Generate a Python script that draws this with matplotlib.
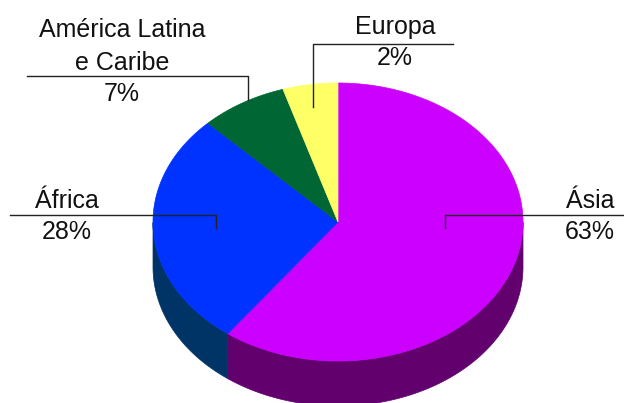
import numpy as np
import matplotlib.pyplot as plt
from matplotlib.patches import Polygon

# regions, printed labels and the slice sizes as drawn in the picture (%)
regions = ['Ásia', 'África', 'América Latina\ne Caribe', 'Europa']
pct_labels = ['63%', '28%', '7%', '2%']
slice_shares = [60.1, 27.4, 7.6, 4.8]

top_colors = ['#CC00FF', '#0033FF', '#006633', '#FFFF66']
side_colors = ['#62006E', '#003466', '#00331A', '#80802E']

# label layout: text x, y of each name line, y of pct, leader (x_start, y_line, x_end, y_end)
label_x = [590, 67, 122, 395]
name_y = [[201], [201], [30, 63], [27]]
pct_y = [232, 232, 94, 58]
leaders = [(624, 215, 445, 228), (10, 215, 216, 228),
           (27, 76, 248, 100), (453, 43.5, 313, 107)]

# pie geometry (pixels)
cx, cy, a, b, depth = 338, 222, 185, 139, 45


def pt(t, dy=0):
    t = np.radians(t)
    return cx + a * np.cos(t), cy - b * np.sin(t) + dy


fig = plt.figure(figsize=(6.24, 4.03), dpi=100)
ax = fig.add_axes([0, 0, 1, 1])
ax.set_xlim(0, 624)
ax.set_ylim(403, 0)
ax.axis('off')

fracs = np.array(slice_shares) / sum(slice_shares)
angles = 90 - np.concatenate([[0], np.cumsum(fracs) * 360])

# side walls first (only the front half is visible)
for i in range(len(fracs)):
    t = np.linspace(angles[i + 1], angles[i], 400)
    t = t[np.sin(np.radians(t)) <= 1e-9]
    if len(t) < 2:
        continue
    x, y = pt(t)
    xs = np.concatenate([x, x[::-1]])
    ys = np.concatenate([y, (y + depth)[::-1]])
    ax.add_patch(Polygon(np.column_stack([xs, ys]), closed=True,
                         facecolor=side_colors[i], edgecolor=side_colors[i], lw=0.5))

# top faces
for i in range(len(fracs)):
    t = np.linspace(angles[i], angles[i + 1], 400)
    x, y = pt(t)
    xs = np.concatenate([[cx], x])
    ys = np.concatenate([[cy], y])
    ax.add_patch(Polygon(np.column_stack([xs, ys]), closed=True,
                         facecolor=top_colors[i], edgecolor=top_colors[i], lw=0.5))

# labels with leader lines
font = dict(family='Liberation Sans', fontsize=18, color='#111111',
            ha='center', va='center')
for i, name in enumerate(regions):
    for line, y in zip(name.split('\n'), name_y[i]):
        ax.text(label_x[i], y, line, **font)
    ax.text(label_x[i], pct_y[i], pct_labels[i], **font)
    x0, yl, x1, y1 = leaders[i]
    ax.plot([x0, x1, x1], [yl, yl, y1], color='#222222', lw=1)

fig.savefig('out.png', dpi=100)
